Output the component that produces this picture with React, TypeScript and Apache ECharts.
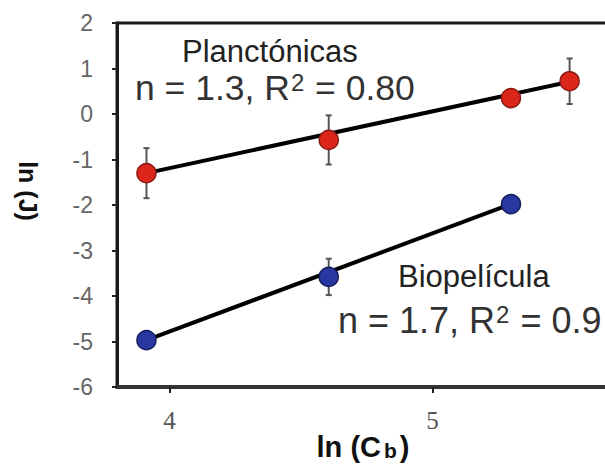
import React, { useEffect, useRef } from "react";
import * as echarts from "echarts";

// ln(Cb) positions of the measurements
const planctonicasX = [3.912, 4.605, 5.298, 5.521];
const planctonicasY = [-1.3, -0.57, 0.35, 0.72];
const planctonicasErr = [0.55, 0.54, 0, 0.5];

const biopeliculaX = [3.912, 4.605, 5.298];
const biopeliculaY = [-4.97, -3.58, -1.98];
const biopeliculaErr = [0, 0.4, 0];

// fitted lines (end points)
const planctonicasFitX = [3.912, 5.521];
const planctonicasFitY = [-1.3, 0.71];
const biopeliculaFitX = [3.912, 5.298];
const biopeliculaFitY = [-4.97, -1.98];

const xTicks = [4, 5];
const yMin = -6;
const yMax = 2;

const zip = (xs: number[], ys: number[]) => xs.map((x, i) => [x, ys[i]]);
const zip3 = (xs: number[], ys: number[], es: number[]) => xs.map((x, i) => [x, ys[i], es[i]]);

const errorRender = (params: any, api: any) => {
  const x = api.value(0);
  const y = api.value(1);
  const e = api.value(2);
  if (!e) return null;
  const top = api.coord([x, y + e]);
  const bot = api.coord([x, y - e]);
  const style = { stroke: "#555", lineWidth: 2 };
  return {
    type: "group",
    children: [
      { type: "line", shape: { x1: top[0], y1: top[1], x2: bot[0], y2: bot[1] }, style },
      { type: "line", shape: { x1: top[0] - 3, y1: top[1], x2: top[0] + 3, y2: top[1] }, style },
      { type: "line", shape: { x1: bot[0] - 3, y1: bot[1], x2: bot[0] + 3, y2: bot[1] }, style },
    ],
  };
};

export default function App() {
  const ref = useRef<HTMLDivElement>(null);
  useEffect(() => {
    if (!ref.current) return;
    const chart = echarts.init(ref.current, undefined, { renderer: "svg" });
    const sans = "'Liberation Sans', Arial, sans-serif";
    chart.setOption({
      animation: false,
      backgroundColor: "#ffffff",
      grid: {
        left: 117,
        top: 23,
        height: 364,
        width: 526,
        outerBoundsMode: "none",
        containLabel: false,
        show: true,
        borderColor: "#1a1a1a",
        borderWidth: 3,
      },
      xAxis: {
        type: "value",
        min: 3.8,
        max: 5.8,
        splitLine: { show: false },
        axisLine: { show: true, onZero: false, lineStyle: { color: "#333", width: 4 } },
        axisTick: {
          show: true,
          inside: false,
          length: 6,
          lineStyle: { color: "#222", width: 2 },
          customValues: xTicks,
        },
        axisLabel: {
          customValues: xTicks,
          margin: 21,
          color: "#555",
          fontSize: 25,
          fontFamily: "'Liberation Serif', 'Times New Roman', serif",
        },
      },
      yAxis: {
        type: "value",
        min: yMin,
        max: yMax,
        interval: 1,
        splitLine: { show: false },
        axisLine: { show: true, onZero: false, lineStyle: { color: "#1a1a1a", width: 3 } },
        axisTick: { show: true, length: 5, lineStyle: { color: "#222", width: 2 } },
        axisLabel: { margin: 24, color: "#666", fontSize: 23, fontFamily: sans },
      },
      graphic: [
        {
          type: "text",
          left: 182,
          top: 36,
          style: { text: "Planctónicas", font: `31px ${sans}`, fill: "#222" },
        },
        {
          type: "text",
          left: 135,
          top: 70,
          style: {
            text: "n = 1.3, R{sup|2} = 0.80",
            font: `35.5px ${sans}`,
            fill: "#333",
            rich: { sup: { font: `24px ${sans}`, fill: "#333", verticalAlign: "top", padding: [0, 1, 0, 1] } },
          },
        },
        {
          type: "text",
          left: 398,
          top: 261,
          style: { text: "Biopelícula", font: `31px ${sans}`, fill: "#222" },
        },
        {
          type: "text",
          left: 338,
          top: 302,
          style: {
            text: "n = 1.7, R{sup|2} = 0.9",
            font: `36px ${sans}`,
            fill: "#333",
            rich: { sup: { font: `24px ${sans}`, fill: "#333", verticalAlign: "top", padding: [0, 1, 0, 1] } },
          },
        },
        {
          type: "text",
          x: 363,
          y: 447,
          style: {
            text: "ln (C{s|b})",
            font: `bold 29px ${sans}`,
            fill: "#111",
            align: "center",
            verticalAlign: "middle",
            rich: { s: { font: `bold 21px ${sans}`, fill: "#111", padding: [6, 3, 0, 3] } },
          },
        },
        {
          type: "text",
          x: 28,
          y: 191,
          rotation: -Math.PI / 2,
          style: {
            text: "ln (J)",
            font: `bold 25px ${sans}`,
            fill: "#111",
            align: "center",
            verticalAlign: "middle",
          },
        },
      ],
      series: [
        {
          type: "line",
          data: zip(planctonicasFitX, planctonicasFitY),
          showSymbol: false,
          lineStyle: { color: "#000", width: 4 },
          z: 2,
        },
        {
          type: "line",
          data: zip(biopeliculaFitX, biopeliculaFitY),
          showSymbol: false,
          lineStyle: { color: "#000", width: 4 },
          z: 2,
        },
        {
          type: "custom",
          renderItem: errorRender,
          data: zip3(planctonicasX, planctonicasY, planctonicasErr),
          z: 3,
        },
        {
          type: "custom",
          renderItem: errorRender,
          data: zip3(biopeliculaX, biopeliculaY, biopeliculaErr),
          z: 3,
        },
        {
          type: "scatter",
          data: zip(planctonicasX, planctonicasY),
          symbolSize: 19,
          itemStyle: { color: "#dc261c", borderColor: "#8a1a12", borderWidth: 1.5, opacity: 1 },
          z: 4,
        },
        {
          type: "scatter",
          data: zip(biopeliculaX, biopeliculaY),
          symbolSize: 19,
          itemStyle: { color: "#2838a0", borderColor: "#161d5c", borderWidth: 1.5, opacity: 1 },
          z: 4,
        },
      ],
    });
    return () => chart.dispose();
  }, []);
  return <div ref={ref} style={{ width: 605, height: 469, position: "absolute", left: 0, top: 0 }} />;
}
